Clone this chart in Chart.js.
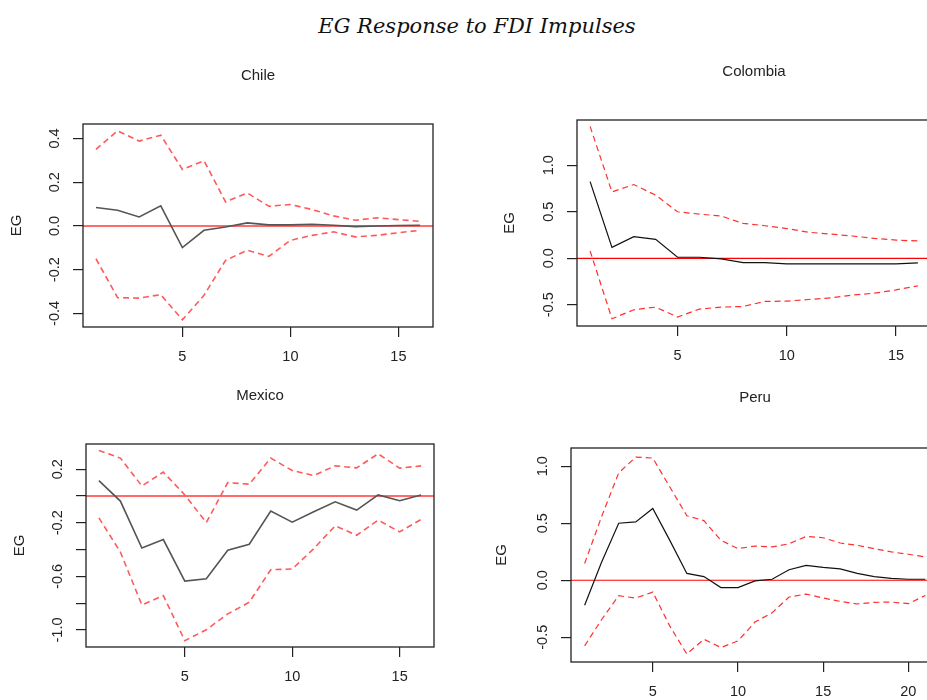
<!DOCTYPE html>
<html>
<head>
<meta charset="utf-8">
<script src="https://cdn.jsdelivr.net/npm/chart.js@4"></script>
<style>
  html, body { margin: 0; padding: 0; background: #fff; width: 927px; height: 700px; overflow: hidden; }
  #mainTitle {
    position: absolute; left: 0; width: 954px; top: 14px; text-align: center;
    font-family: "DejaVu Serif", serif; font-style: italic; font-size: 21px; color: #111;
  }
  canvas { position: absolute; }
</style>
</head>
<body>
<div id="mainTitle">EG Response to FDI Impulses</div>
<canvas id="chile"></canvas>
<canvas id="colombia"></canvas>
<canvas id="mexico"></canvas>
<canvas id="peru"></canvas>
<script>
// periods (horizon steps)
const periods16 = [1, 2, 3, 4, 5, 6, 7, 8, 9, 10, 11, 12, 13, 14, 15, 16]
const periods21 = [1, 2, 3, 4, 5, 6, 7, 8, 9, 10, 11, 12, 13, 14, 15, 16, 17, 18, 19, 20, 21]

// Chile
const chileIrf = [0.084, 0.072, 0.041, 0.092, -0.099, -0.020, -0.005, 0.014, 0.005, 0.005, 0.008, 0.003, -0.003, 0.000, 0.002, 0.003]
const chileUpper = [0.350, 0.435, 0.388, 0.415, 0.258, 0.298, 0.110, 0.151, 0.090, 0.098, 0.075, 0.046, 0.026, 0.037, 0.029, 0.021]
const chileLower = [-0.150, -0.328, -0.330, -0.314, -0.429, -0.317, -0.157, -0.111, -0.139, -0.066, -0.043, -0.027, -0.050, -0.043, -0.031, -0.020]

// Colombia
const colombiaIrf = [0.825, 0.118, 0.232, 0.204, 0.011, 0.011, -0.007, -0.046, -0.046, -0.060, -0.060, -0.060, -0.060, -0.060, -0.060, -0.050]
const colombiaUpper = [1.418, 0.714, 0.793, 0.679, 0.500, 0.475, 0.454, 0.375, 0.350, 0.320, 0.280, 0.260, 0.240, 0.214, 0.196, 0.186]
const colombiaLower = [0.079, -0.650, -0.554, -0.525, -0.632, -0.546, -0.525, -0.518, -0.464, -0.460, -0.443, -0.425, -0.396, -0.375, -0.340, -0.296]

// Mexico
const mexicoIrf = [0.115, -0.038, -0.388, -0.325, -0.635, -0.618, -0.405, -0.360, -0.113, -0.195, -0.118, -0.043, -0.105, 0.008, -0.035, 0.008]
const mexicoUpper = [0.340, 0.283, 0.075, 0.178, 0.008, -0.198, 0.100, 0.088, 0.283, 0.190, 0.153, 0.225, 0.210, 0.315, 0.208, 0.225]
const mexicoLower = [-0.163, -0.418, -0.813, -0.743, -1.080, -0.998, -0.880, -0.793, -0.550, -0.545, -0.393, -0.223, -0.293, -0.180, -0.268, -0.175]

// Peru
const peruIrf = [-0.220, 0.160, 0.500, 0.512, 0.630, 0.350, 0.060, 0.032, -0.064, -0.064, -0.006, 0.009, 0.092, 0.130, 0.113, 0.100, 0.060, 0.032, 0.017, 0.009, 0.009]
const peruUpper = [0.147, 0.560, 0.942, 1.080, 1.072, 0.818, 0.566, 0.523, 0.350, 0.277, 0.300, 0.292, 0.320, 0.384, 0.373, 0.327, 0.306, 0.277, 0.249, 0.228, 0.205]
const peruLower = [-0.575, -0.344, -0.136, -0.156, -0.104, -0.402, -0.647, -0.517, -0.590, -0.532, -0.367, -0.286, -0.147, -0.121, -0.156, -0.185, -0.208, -0.194, -0.191, -0.205, -0.133]

// tick values
const xTicks16 = [5, 10, 15]
const xTicks21 = [5, 10, 15, 20]
const chileYTicks = [-0.4, -0.2, 0.0, 0.2, 0.4]
const colombiaYTicks = [-0.5, 0.0, 0.5, 1.0]
const mexicoYTicks = [-1.0, -0.8, -0.6, -0.4, -0.2, 0.0, 0.2]
const mexicoYLabels = [-1.0, -0.6, -0.2, 0.2]
const peruYTicks = [-0.5, 0.0, 0.5, 1.0]

const AXIS_W = 80, AXIS_H = 50, PAD_TOP = 70, PAD_RIGHT = 10
const txtColor = '#222'

// box outline + zero line + panel title
const panelDecor = {
    id: 'panelDecor',
    beforeDatasetsDraw(chart, args, opts) {
        const ctx = chart.ctx, a = chart.chartArea
        const y0 = chart.scales.y.getPixelForValue(0)
        ctx.save()
        ctx.strokeStyle = opts.zeroColor
        ctx.lineWidth = opts.zeroWidth
        ctx.beginPath()
        ctx.moveTo(a.left, y0)
        ctx.lineTo(a.right, y0)
        ctx.stroke()
        ctx.restore()
    },
    afterDraw(chart, args, opts) {
        const ctx = chart.ctx, a = chart.chartArea
        ctx.save()
        ctx.strokeStyle = txtColor
        ctx.lineWidth = 1.3
        ctx.strokeRect(a.left, a.top, a.right - a.left, a.bottom - a.top)
        ctx.fillStyle = txtColor
        ctx.font = '15px "Liberation Sans", Arial, sans-serif'
        ctx.textAlign = 'center'
        ctx.textBaseline = 'middle'
        ctx.fillText(opts.title, (a.left + a.right) / 2, a.top - opts.titleGap)
        ctx.restore()
    }
}

function drawPanel(id, box, cfg) {
    const canvas = document.getElementById(id)
    const w = (box.r - box.l) + AXIS_W + PAD_RIGHT
    const h = (box.b - box.t) + PAD_TOP + AXIS_H
    canvas.width = w
    canvas.height = h
    canvas.style.width = w + 'px'
    canvas.style.height = h + 'px'
    canvas.style.left = (box.l - AXIS_W) + 'px'
    canvas.style.top = (box.t - PAD_TOP) + 'px'

    const pts = arr => cfg.periods.map((p, i) => ({ x: p, y: arr[i] }))
    const dashed = arr => ({
        data: pts(arr), borderColor: cfg.bandColor, borderWidth: cfg.bandWidth,
        borderDash: [6, 4], pointRadius: 0, tension: 0, fill: false
    })
    const yLabels = cfg.yLabels || cfg.yTicks

    new Chart(canvas.getContext('2d'), {
        type: 'line',
        data: {
            datasets: [
                { data: pts(cfg.irf), borderColor: cfg.lineColor, borderWidth: cfg.lineWidth, pointRadius: 0, tension: 0, fill: false },
                dashed(cfg.upper),
                dashed(cfg.lower)
            ]
        },
        options: {
            responsive: false,
            animation: false,
            layout: { padding: { top: PAD_TOP, right: PAD_RIGHT, left: 0, bottom: 0 } },
            plugins: {
                legend: { display: false },
                tooltip: { enabled: false },
                panelDecor: {
                    title: cfg.title, titleGap: cfg.titleGap,
                    zeroColor: cfg.zeroColor, zeroWidth: cfg.zeroWidth
                }
            },
            scales: {
                x: {
                    type: 'linear',
                    min: cfg.xMin, max: cfg.xMax,
                    afterBuildTicks: s => { s.ticks = cfg.xTicks.map(v => ({ value: v })) },
                    afterFit: s => { s.height = AXIS_H },
                    grid: { drawOnChartArea: false, drawTicks: true, tickLength: 10, color: txtColor, lineWidth: 1.2 },
                    border: { display: false },
                    ticks: {
                        color: txtColor, padding: 11, maxRotation: 0,
                        font: { family: '"Liberation Sans", Arial, sans-serif', size: 14.5 },
                        callback: v => String(v)
                    }
                },
                y: {
                    min: cfg.yMin, max: cfg.yMax,
                    afterBuildTicks: s => { s.ticks = cfg.yTicks.map(v => ({ value: v })) },
                    afterFit: s => { s.width = AXIS_W },
                    grid: { drawOnChartArea: false, drawTicks: true, tickLength: 10, color: txtColor, lineWidth: 1.2 },
                    border: { display: false },
                    title: {
                        display: true, text: 'EG', color: txtColor,
                        font: { family: '"Liberation Sans", Arial, sans-serif', size: 15 },
                        padding: { top: cfg.labelPad, bottom: 0 }
                    },
                    ticks: {
                        color: txtColor, padding: 5.5, minRotation: 90, maxRotation: 90, crossAlign: 'center',
                        font: { family: '"Liberation Sans", Arial, sans-serif', size: 14.5 },
                        callback: v => yLabels.some(l => Math.abs(l - v) < 1e-9) ? v.toFixed(1) : ''
                    }
                }
            }
        },
        plugins: [panelDecor]
    })
}

const softStyle = { lineColor: '#555555', lineWidth: 1.6, bandColor: '#ff5a5a', bandWidth: 1.6, zeroColor: '#ff6a6a', zeroWidth: 2 }
const sharpStyle = { lineColor: '#111111', lineWidth: 1.2, bandColor: '#ff3030', bandWidth: 1.2, zeroColor: '#ff0000', zeroWidth: 1.2 }

drawPanel('chile', { l: 83, t: 124, r: 433, b: 327 }, Object.assign({
    title: 'Chile', titleGap: 48, labelPad: 5, periods: periods16,
    irf: chileIrf, upper: chileUpper, lower: chileLower,
    xMin: 0.4, xMax: 16.6, xTicks: xTicks16, yMin: -0.462, yMax: 0.466, yTicks: chileYTicks
}, softStyle))

drawPanel('colombia', { l: 577, t: 120, r: 931, b: 326 }, Object.assign({
    title: 'Colombia', titleGap: 48, labelPad: 4, periods: periods16,
    irf: colombiaIrf, upper: colombiaUpper, lower: colombiaLower,
    xMin: 0.4, xMax: 16.6, xTicks: xTicks16, yMin: -0.728, yMax: 1.487, yTicks: colombiaYTicks
}, sharpStyle))

drawPanel('mexico', { l: 86, t: 444, r: 434, b: 647 }, Object.assign({
    title: 'Mexico', titleGap: 48, labelPad: 5, periods: periods16,
    irf: mexicoIrf, upper: mexicoUpper, lower: mexicoLower,
    xMin: 0.4, xMax: 16.6, xTicks: xTicks16, yMin: -1.127, yMax: 0.388,
    yTicks: mexicoYTicks, yLabels: mexicoYLabels
}, softStyle))

drawPanel('peru', { l: 571, t: 448, r: 939, b: 662 }, Object.assign({
    title: 'Peru', titleGap: 50, labelPad: 2, periods: periods21,
    irf: peruIrf, upper: peruUpper, lower: peruLower,
    xMin: 0.2, xMax: 21.8, xTicks: xTicks21, yMin: -0.717, yMax: 1.16, yTicks: peruYTicks
}, sharpStyle))
</script>
</body>
</html>
